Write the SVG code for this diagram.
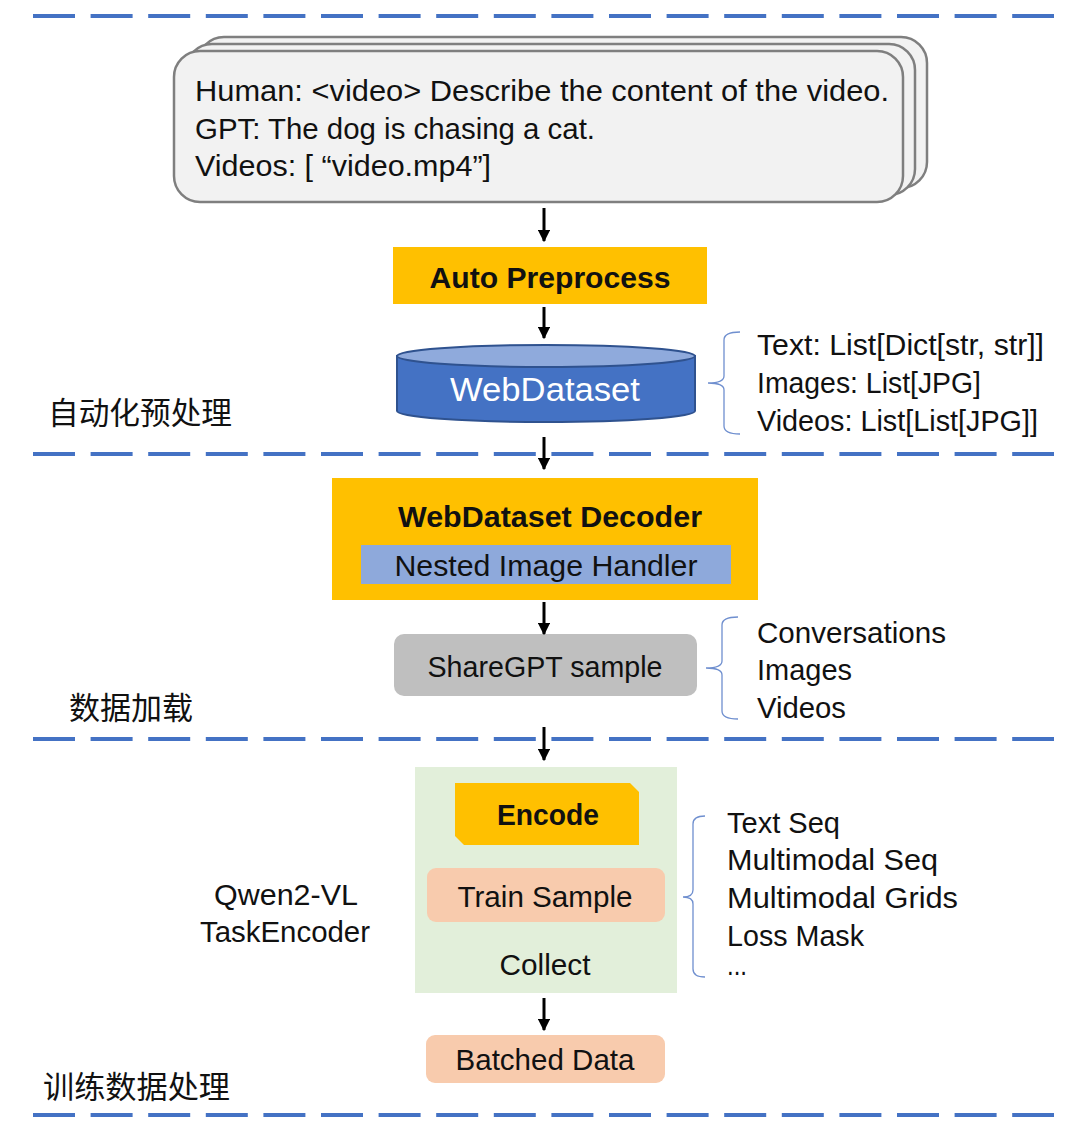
<svg xmlns="http://www.w3.org/2000/svg" width="1080" height="1139" viewBox="0 0 1080 1139">
<defs>
<style>
.sep{stroke:#4472C4;stroke-width:4;stroke-dasharray:42 15.6;fill:none}
.t{font-family:"Liberation Sans","Noto Sans CJK SC",sans-serif;fill:#111}
.b{font-weight:bold}
.cn{font-family:"Noto Sans CJK SC","Liberation Sans",sans-serif;fill:#111;font-size:30.5px}
.card{fill:#F2F2F2;stroke:#7F7F7F;stroke-width:2.5}
.yel{fill:#FFC000}
.peach{fill:#F8CBAD}
.brace{fill:none;stroke:#6F8FCF;stroke-width:1.3}
.conn{stroke:#000;stroke-width:3;fill:none;marker-end:url(#ah)}
</style>
<marker id="ah" viewBox="0 0 10 10" refX="9" refY="5" markerWidth="4.2" markerHeight="4.2" orient="auto" markerUnits="strokeWidth">
<path d="M0,0 L10,5 L0,10 z" fill="#000"/>
</marker>
</defs>
<rect width="1080" height="1139" fill="#FFFFFF"/>

<g id="separators">
<line class="sep" x1="33" y1="16" x2="1054" y2="16"/>
<line class="sep" x1="33" y1="454" x2="1054" y2="454"/>
<line class="sep" x1="33" y1="739" x2="1054" y2="739"/>
<line class="sep" x1="33" y1="1115" x2="1054" y2="1115"/>
</g>

<g id="section-labels">
<text class="cn" x="48" y="424" textLength="184" lengthAdjust="spacingAndGlyphs">自动化预处理</text>
<text class="cn" x="69" y="719" textLength="124" lengthAdjust="spacingAndGlyphs">数据加载</text>
<text class="cn" x="43" y="1098" textLength="187" lengthAdjust="spacingAndGlyphs">训练数据处理</text>
</g>

<g id="conversation-cards">
<rect class="card" x="198" y="37" width="729" height="151" rx="26"/>
<rect class="card" x="186" y="44" width="729" height="151" rx="26"/>
<rect class="card" x="174" y="51" width="729" height="151" rx="26"/>
<text class="t" x="195" y="101" font-size="29" textLength="694" lengthAdjust="spacingAndGlyphs">Human: &lt;video&gt; Describe the content of the video.</text>
<text class="t" x="195" y="139" font-size="29" textLength="400" lengthAdjust="spacingAndGlyphs">GPT: The dog is chasing a cat.</text>
<text class="t" x="195" y="176" font-size="29" textLength="296" lengthAdjust="spacingAndGlyphs">Videos: [ “video.mp4”]</text>
</g>

<g id="auto-preprocess">
<rect class="yel" x="393" y="247" width="314" height="57"/>
<text class="t b" x="550" y="288" font-size="30" text-anchor="middle" textLength="241" lengthAdjust="spacingAndGlyphs">Auto Preprocess</text>
</g>

<g id="webdataset">
<path d="M397,356 L397,411 A149,11 0 0 0 695,411 L695,356 Z" fill="#4472C4" stroke="#2F528F" stroke-width="2"/>
<ellipse cx="546" cy="356" rx="149" ry="11" fill="#8FAADC" stroke="#2F528F" stroke-width="2"/>
<text x="545" y="401" font-size="34" text-anchor="middle" font-family="Liberation Sans, sans-serif" fill="#FFFFFF" textLength="190" lengthAdjust="spacingAndGlyphs">WebDataset</text>
</g>

<g id="webdataset-fields">
<path class="brace" d="M740,332 Q724,332 724,340 L724,376 Q724,383 708,383 Q724,383 724,390 L724,426 Q724,434 740,434"/>
<text class="t" x="757" y="355" font-size="29" textLength="287" lengthAdjust="spacingAndGlyphs">Text: List[Dict[str, str]]</text>
<text class="t" x="757" y="393" font-size="29" textLength="224" lengthAdjust="spacingAndGlyphs">Images: List[JPG]</text>
<text class="t" x="757" y="431" font-size="29" textLength="281" lengthAdjust="spacingAndGlyphs">Videos: List[List[JPG]]</text>
</g>

<g id="decoder">
<rect class="yel" x="332" y="478" width="426" height="122"/>
<text class="t b" x="550" y="527" font-size="30" text-anchor="middle" textLength="304" lengthAdjust="spacingAndGlyphs">WebDataset Decoder</text>
<rect x="361" y="545" width="370" height="39" fill="#8EA9DB"/>
<text class="t" x="546" y="576" font-size="30" text-anchor="middle" textLength="303" lengthAdjust="spacingAndGlyphs">Nested Image Handler</text>
</g>

<g id="sharegpt">
<rect x="394" y="634" width="303" height="62" rx="10" fill="#BFBFBF"/>
<text class="t" x="545" y="677" font-size="30" text-anchor="middle" textLength="235" lengthAdjust="spacingAndGlyphs">ShareGPT sample</text>
</g>

<g id="sharegpt-fields">
<path class="brace" d="M738,617 Q722,617 722,625 L722,661 Q722,668 706,668 Q722,668 722,675 L722,711 Q722,719 738,719"/>
<text class="t" x="757" y="643" font-size="29" textLength="189" lengthAdjust="spacingAndGlyphs">Conversations</text>
<text class="t" x="757" y="680" font-size="29" textLength="95" lengthAdjust="spacingAndGlyphs">Images</text>
<text class="t" x="757" y="718" font-size="29" textLength="89" lengthAdjust="spacingAndGlyphs">Videos</text>
</g>

<g id="task-encoder-label">
<text class="t" x="286" y="905" font-size="30" text-anchor="middle" textLength="144" lengthAdjust="spacingAndGlyphs">Qwen2-VL</text>
<text class="t" x="285" y="942" font-size="30" text-anchor="middle" textLength="170" lengthAdjust="spacingAndGlyphs">TaskEncoder</text>
</g>

<g id="task-encoder">
<rect x="415" y="767" width="262" height="226" fill="#E2EFDA"/>
<path class="yel" d="M455,783 L630,783 L639,792 L639,845 L464,845 L455,836 Z"/>
<text class="t b" x="548" y="825" font-size="30" text-anchor="middle" textLength="102" lengthAdjust="spacingAndGlyphs">Encode</text>
<rect class="peach" x="427" y="868" width="238" height="54" rx="9"/>
<text class="t" x="545" y="907" font-size="30" text-anchor="middle" textLength="175" lengthAdjust="spacingAndGlyphs">Train Sample</text>
<text class="t" x="545" y="975" font-size="30" text-anchor="middle" textLength="91" lengthAdjust="spacingAndGlyphs">Collect</text>
</g>

<g id="train-fields">
<path class="brace" d="M705,816 Q693,816 693,824 L693,890 Q693,897 683,897 Q693,897 693,904 L693,969 Q693,977 705,977"/>
<text class="t" x="727" y="833" font-size="29" textLength="113" lengthAdjust="spacingAndGlyphs">Text Seq</text>
<text class="t" x="727" y="870" font-size="29" textLength="211" lengthAdjust="spacingAndGlyphs">Multimodal Seq</text>
<text class="t" x="727" y="908" font-size="29" textLength="231" lengthAdjust="spacingAndGlyphs">Multimodal Grids</text>
<text class="t" x="727" y="946" font-size="29" textLength="137" lengthAdjust="spacingAndGlyphs">Loss Mask</text>
<text class="t" x="727" y="975" font-size="29" textLength="20" lengthAdjust="spacingAndGlyphs">...</text>
</g>

<g id="batched-data">
<rect class="peach" x="426" y="1035" width="239" height="48" rx="9"/>
<text class="t" x="545" y="1070" font-size="30" text-anchor="middle" textLength="179" lengthAdjust="spacingAndGlyphs">Batched Data</text>
</g>

<g id="connectors">
<line class="conn" x1="544" y1="208" x2="544" y2="241"/>
<line class="conn" x1="544" y1="307" x2="544" y2="338"/>
<line class="conn" x1="544" y1="437" x2="544" y2="469"/>
<line class="conn" x1="544" y1="602" x2="544" y2="634"/>
<line class="conn" x1="544" y1="727" x2="544" y2="760"/>
<line class="conn" x1="544" y1="998" x2="544" y2="1030"/>
</g>
</svg>
